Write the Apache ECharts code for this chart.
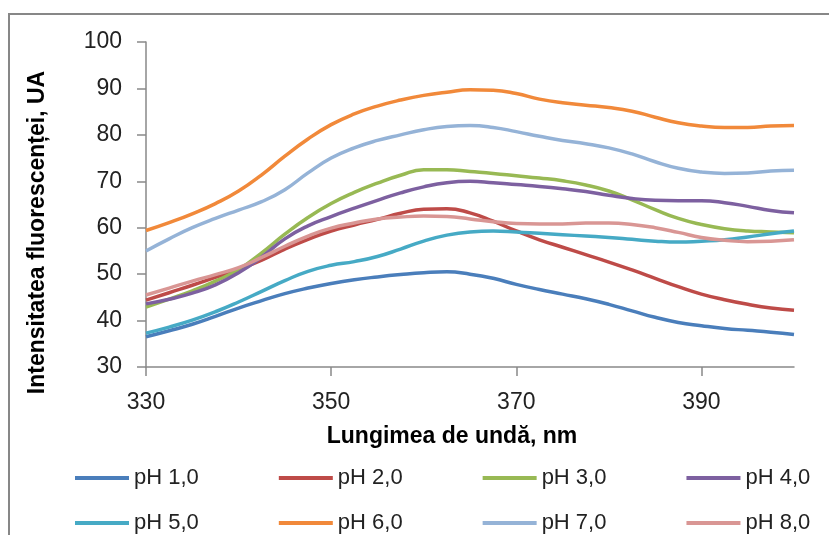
<!DOCTYPE html>
<html>
<head>
<meta charset="utf-8">
<script src="https://cdn.jsdelivr.net/npm/echarts@6/dist/echarts.min.js"></script>
<style>
html,body{margin:0;padding:0;background:#fff;}
#c{width:829px;height:535px;}
</style>
</head>
<body>
<div id="c"></div>
<script>
const wavelengths = [330,332.5,335,337.5,340,342.5,345,347.5,350,352.5,355,357.5,360,362.5,365,367.5,370,372.5,375,377.5,380,382.5,385,387.5,390,392.5,395,397.5,400];
const seriesNames = ['pH 1,0','pH 2,0','pH 3,0','pH 4,0','pH 5,0','pH 6,0','pH 7,0','pH 8,0'];
const ph1 = [36.5,37.8,39.2,40.9,42.7,44.3,45.8,47.0,48.0,48.8,49.4,49.9,50.3,50.5,50.0,49.1,47.8,46.7,45.7,44.7,43.5,42.1,40.7,39.6,38.9,38.3,37.9,37.5,37.0];
const ph2 = [44.4,46.0,47.6,49.3,51.0,53.0,55.4,57.5,59.3,60.6,61.8,63.1,64.0,64.1,63.2,61.4,59.3,57.4,55.8,54.2,52.6,50.9,49.1,47.3,45.7,44.5,43.5,42.7,42.2];
const ph3 = [42.9,44.6,46.4,48.5,51.0,54.6,58.6,62.2,65.2,67.6,69.6,71.3,72.5,72.5,72.1,71.7,71.2,70.7,70.1,69.2,67.9,66.0,63.9,62.0,60.7,59.8,59.3,59.1,58.9];
const ph4 = [43.6,44.6,45.9,47.7,50.3,53.7,57.6,60.4,62.4,64.2,65.9,67.5,68.8,69.7,70.0,69.7,69.3,68.9,68.4,67.8,67.0,66.3,65.9,65.8,65.8,65.4,64.6,63.7,63.2];
const ph5 = [37.3,38.6,40.1,41.9,44.0,46.3,48.6,50.6,51.9,52.7,53.8,55.4,57.1,58.4,59.1,59.3,59.1,58.8,58.5,58.2,57.9,57.5,57.1,56.9,57.1,57.4,58.0,58.7,59.3];
const ph6 = [59.4,61.1,63.0,65.2,67.9,71.4,75.4,79.1,82.2,84.5,86.2,87.5,88.5,89.2,89.7,89.6,88.9,87.7,86.9,86.4,85.9,85.1,83.8,82.6,81.9,81.6,81.6,81.9,82.0];
const ph7 = [55.0,57.6,60.0,62.0,63.8,65.6,68.2,71.8,75.0,77.2,78.8,80.0,81.1,81.8,82.0,81.6,80.7,79.7,78.8,78.1,77.2,75.9,74.2,72.8,72.0,71.7,71.8,72.2,72.4];
const ph8 = [45.5,47.0,48.5,49.9,51.4,53.6,56.0,58.2,59.9,61.0,61.9,62.3,62.5,62.4,61.9,61.3,60.9,60.8,60.8,61.0,61.0,60.7,60.0,59.0,57.9,57.3,57.0,57.1,57.4];
const xTicks = [330,350,370,390];
const yTicks = [30,40,50,60,70,80,90,100];
const allValues = [ph1,ph2,ph3,ph4,ph5,ph6,ph7,ph8];
const colors = ['#4A7EBB','#BE4B48','#98B954','#7D60A0','#46AAC5','#F1893A','#95B3D7','#D99694'];

const fontTick = 'Liberation Sans, Arial, sans-serif';
const axisGray = '#898989';

const chart = echarts.init(document.getElementById('c'), null, {renderer:'canvas'});
const series = allValues.map((vals,i)=>({
  name: seriesNames[i],
  type: 'line',
  smooth: 0.5,
  showSymbol: false,
  symbol: 'none',
  lineStyle: {width: 3.5, color: colors[i]},
  itemStyle: {color: colors[i]},
  data: wavelengths.map((w,j)=>[w, vals[j]]),
  z: 2 + i
}));

const legendCommon = {
  icon: 'rect',
  itemWidth: 54,
  itemHeight: 4,
  itemGap: 80,
  padding: 0,
  orient: 'horizontal',
  textStyle: {fontFamily: fontTick, fontSize: 22, color: '#222'},
  selectedMode: false
};

chart.setOption({
  animation: false,
  color: colors,
  grid: {left: 146, right: 35, top: 42, bottom: 168, containLabel: false},
  xAxis: {
    type: 'value',
    min: 330, max: 400, interval: 20,
    name: 'Lungimea de undă, nm',
    nameLocation: 'middle',
    nameGap: 58,
    nameTextStyle: {fontFamily: fontTick, fontWeight: 'bold', fontSize: 23, color: '#000', padding: [0, 36, 0, 0]},
    axisLine: {show: true, lineStyle: {color: axisGray, width: 1.5}},
    axisTick: {show: true, length: 9, inside: false, lineStyle: {color: axisGray, width: 1.5}, customValues: xTicks},
    axisLabel: {fontFamily: fontTick, fontSize: 23, color: '#222', margin: 24, customValues: xTicks},
    splitLine: {show: false}
  },
  yAxis: {
    type: 'value',
    min: 30, max: 100, interval: 10,
    name: 'Intensitatea fluorescenței, UA',
    nameLocation: 'middle',
    nameGap: 97,
    nameRotate: 90,
    nameTextStyle: {fontFamily: fontTick, fontWeight: 'bold', fontSize: 23, color: '#000', padding: [0, 56, 0, 0]},
    axisLine: {show: true, lineStyle: {color: axisGray, width: 1.5}},
    axisTick: {show: true, length: 9, inside: false, lineStyle: {color: axisGray, width: 1.5}, customValues: yTicks},
    axisLabel: {fontFamily: fontTick, fontSize: 23, color: '#222', margin: 24, customValues: yTicks},
    splitLine: {show: false}
  },
  legend: [
    Object.assign({}, legendCommon, {data: seriesNames.slice(0,4), left: 75, top: 467}),
    Object.assign({}, legendCommon, {data: seriesNames.slice(4,8), left: 75, top: 512})
  ],
  graphic: [{
    type: 'polyline',
    shape: {points: [[9,535],[9,14],[829,14]]},
    style: {stroke: '#878787', lineWidth: 2, fill: null},
    silent: true
  }],
  series: series
});
</script>
</body>
</html>
